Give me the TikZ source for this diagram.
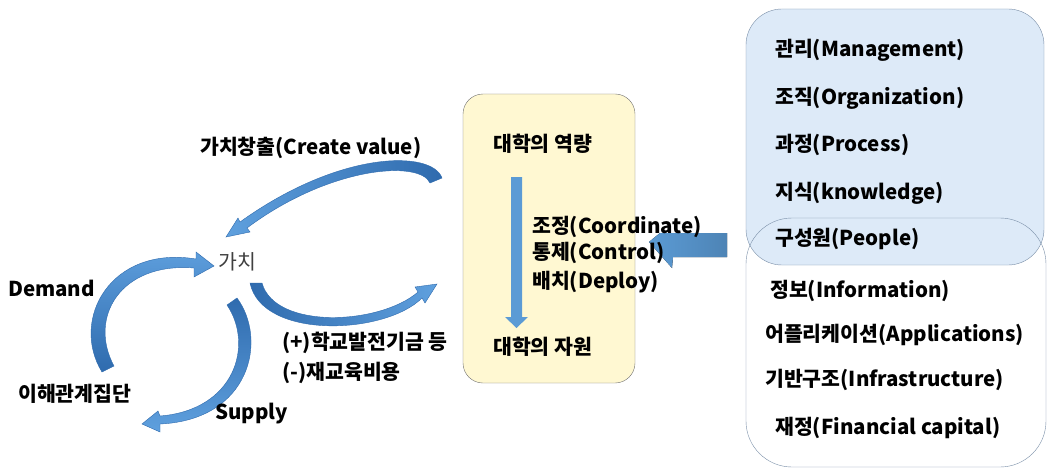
\documentclass[tikz,border=0pt]{standalone}
\usepackage{fontspec}
\setmainfont{Noto Sans CJK KR}
\begin{document}
\begin{tikzpicture}[x=1pt,y=-1pt,
  lbl/.style={font=\fontsize{20.5}{24}\selectfont\bfseries, inner sep=0pt, anchor=west, text height=0.68em, text depth=0.32em, yshift=-4pt},
  lblr/.style={font=\fontsize{20.5}{24}\selectfont, inner sep=0pt, anchor=west, text height=0.68em, text depth=0.32em, text=black!75, yshift=-4pt},
  blk/.style={draw=arrowdark, line width=0.4pt},
]
\definecolor{arrowblue}{HTML}{5B9BD5}
\definecolor{arrowdark}{HTML}{2F6BAE}
\definecolor{arrowlight}{HTML}{5FA0DE}
\definecolor{yelfill}{HTML}{FFF8D2}
\definecolor{bluefill}{HTML}{DDEAF8}
\definecolor{boxline}{HTML}{7A8FA8}
\useasboundingbox (0,0) rectangle (1047,468);
\fill[white] (0,0) rectangle (1047,468);

% right boxes
\draw[boxline, fill=bluefill, rounded corners=36] (746,9) rectangle (1044,265);
\draw[boxline, rounded corners=46] (746,218) rectangle (1046,467);

% yellow box
\draw[black!55, fill=yelfill, rounded corners=20] (463,94) rectangle (635,383);

% vertical arrow in yellow box
\fill[arrowblue] (511,177) -- (522,177) -- (522,317) -- (528,317) -- (516.5,328) -- (505,317) -- (511,317) -- cycle;

% big left arrow
\fill[left color=arrowblue, right color=arrowblue!85!black] (727,233) -- (660,233) -- (649,242) -- (672,268) -- (673,257) -- (727,257) -- cycle;

% curved arrows
\shade[blk, left color=arrowlight, right color=arrowdark]
  (442,178) .. controls (432,150) and (340,150) .. (240,222) -- (238,218) -- (226,237) -- (250,232) -- (247,228) .. controls (330,166) and (420,160) .. (430,183) -- cycle;
\shade[blk, top color=arrowlight, bottom color=arrowdark]
  (102,372) .. controls (70,320) and (110,245) .. (196,259) -- (196,252) -- (214,266) -- (194,277) -- (194,268) .. controls (120,262) and (88,318) .. (114,366) -- cycle;
\shade[blk, top color=arrowdark, bottom color=arrowlight]
  (237,298) .. controls (268,340) and (250,420) .. (160,424) -- (160,432) -- (142,424) -- (158,411) -- (160,416) .. controls (235,410) and (254,345) .. (227,305) -- cycle;
\shade[blk, left color=arrowdark, right color=arrowlight]
  (250,283) .. controls (262,340) and (385,335) .. (422,298) -- (425,303) -- (437,284) -- (415,287) -- (418,292) .. controls (380,325) and (275,330) .. (262,283) -- cycle;

% left texts
\node[lbl] (cv) at (200,149) {가치창출(Create value)};
\node[lblr] (gachi) at (218,264) {가치};
\node[lbl] (dem) at (8,291) {Demand};
\node[lbl] (stake) at (18,396) {이해관계집단};
\node[lbl] (sup) at (215,414) {Supply};
\node[lbl] (plus) at (282,344) {(+)학교발전기금 등};
\node[lbl] (minus) at (282,374) {(-)재교육비용};

% yellow box texts
\node[lbl] (cap) at (493,146) {대학의 역량};
\node[lbl] (res) at (493,349) {대학의 자원};
\node[lbl] (coord) at (532,228) {조정(Coordinate)};
\node[lbl] (ctrl) at (532,254) {통제(Control)};
\node[lbl] (depl) at (532,283) {배치(Deploy)};

% right texts
\node[lbl] (r1) at (775,51) {관리(Management)};
\node[lbl] (r2) at (775,99) {조직(Organization)};
\node[lbl] (r3) at (775,146) {과정(Process)};
\node[lbl] (r4) at (775,194) {지식(knowledge)};
\node[lbl] (r5) at (775,240) {구성원(People)};
\node[lbl] (r6) at (770,292) {정보(Information)};
\node[lbl] (r7) at (765,336) {어플리케이션(Applications)};
\node[lbl] (r8) at (765,381) {기반구조(Infrastructure)};
\node[lbl] (r9) at (775,429) {재정(Financial capital)};
\end{tikzpicture}
\end{document}
